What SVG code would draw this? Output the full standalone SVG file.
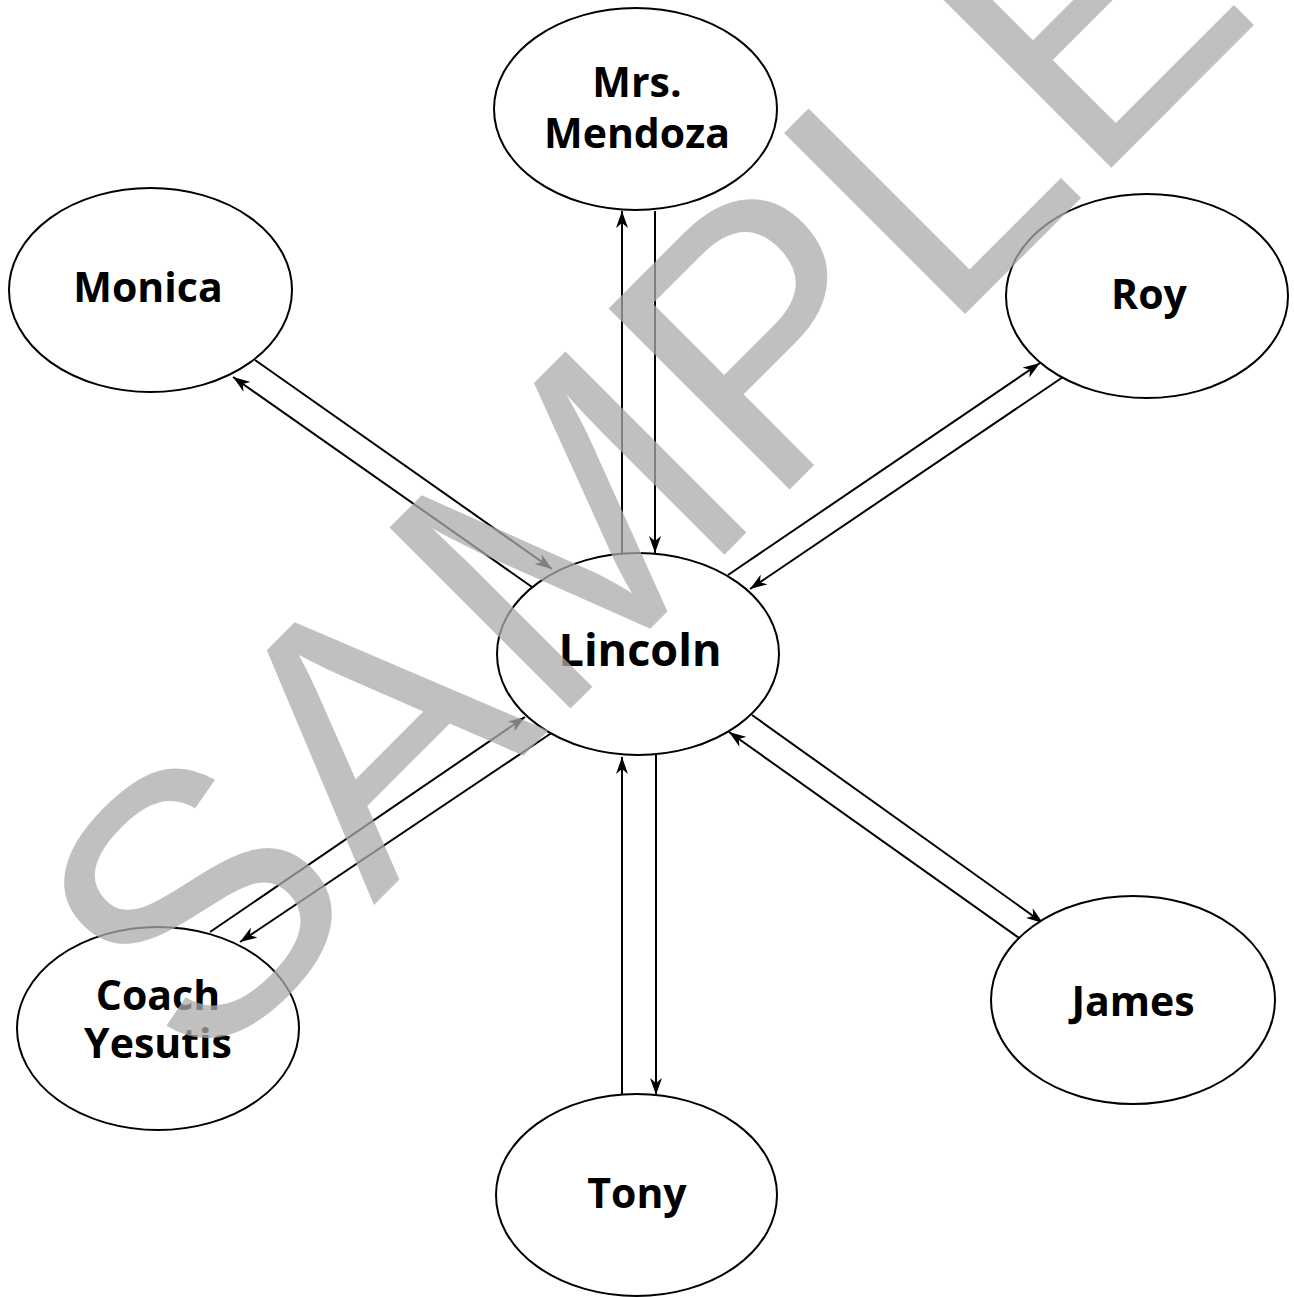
<svg xmlns="http://www.w3.org/2000/svg" width="1294" height="1297" viewBox="0 0 1294 1297">
<defs>
<style>
.node ellipse{fill:#fff;stroke:#000;stroke-width:2}
.node text{font-family:"Open Sans","Noto Sans","DejaVu Sans",sans-serif;font-weight:700;font-size:41px;fill:#000;text-anchor:middle}
.conn line{stroke:#000;stroke-width:2;fill:none;marker-end:url(#arr)}
.wm{font-family:"Liberation Sans",Arial,sans-serif;font-size:372px;fill:#ababab;fill-opacity:0.75}
</style>
<marker id="arr" viewBox="0 0 17 12" refX="17" refY="6" markerWidth="17" markerHeight="12" markerUnits="userSpaceOnUse" orient="auto">
<path d="M0,0 L17,6 L0,12 L5,6 Z" fill="#000"/>
</marker>
</defs>
<rect width="1294" height="1297" fill="#fff"/>
<g id="connectors" class="conn">
<line x1="622" y1="554" x2="622" y2="211"/>
<line x1="655" y1="211" x2="655" y2="553"/>
<line x1="255" y1="360" x2="552" y2="569"/>
<line x1="532" y1="587" x2="233" y2="377"/>
<line x1="728" y1="575" x2="1040" y2="363"/>
<line x1="1063" y1="377" x2="750" y2="589"/>
<line x1="752" y1="715" x2="1043" y2="923"/>
<line x1="1022" y1="940" x2="729" y2="732"/>
<line x1="210" y1="932" x2="525" y2="717"/>
<line x1="553" y1="732" x2="240" y2="942"/>
<line x1="622" y1="1095" x2="622" y2="757"/>
<line x1="656" y1="755" x2="656" y2="1095"/>
</g>
<g id="node-mendoza" class="node">
<ellipse cx="635.5" cy="109" rx="141.5" ry="101"/>
<text x="637" y="97">Mrs.</text>
<text x="637" y="148">Mendoza</text>
</g>
<g id="node-monica" class="node">
<ellipse cx="150.5" cy="290" rx="141.5" ry="102"/>
<text x="148" y="302">Monica</text>
</g>
<g id="node-roy" class="node">
<ellipse cx="1147" cy="296" rx="141" ry="102"/>
<text x="1149" y="309">Roy</text>
</g>
<g id="node-lincoln" class="node">
<ellipse cx="638" cy="654" rx="141" ry="101"/>
<text x="640" y="666" style="font-size:45px">Lincoln</text>
</g>
<g id="node-coach" class="node">
<ellipse cx="158" cy="1028.5" rx="141" ry="101.5"/>
<text x="158" y="1010">Coach</text>
<text x="158" y="1058">Yesutis</text>
</g>
<g id="node-james" class="node">
<ellipse cx="1133" cy="1000" rx="142" ry="104"/>
<text x="1133" y="1016">James</text>
</g>
<g id="node-tony" class="node">
<ellipse cx="636.5" cy="1195" rx="140.5" ry="101"/>
<text x="637" y="1208">Tony</text>
</g>
<g id="watermark">
<text class="wm" x="0" y="0" transform="translate(198,1081) rotate(-45)">SAMPLE</text>
</g>
</svg>
